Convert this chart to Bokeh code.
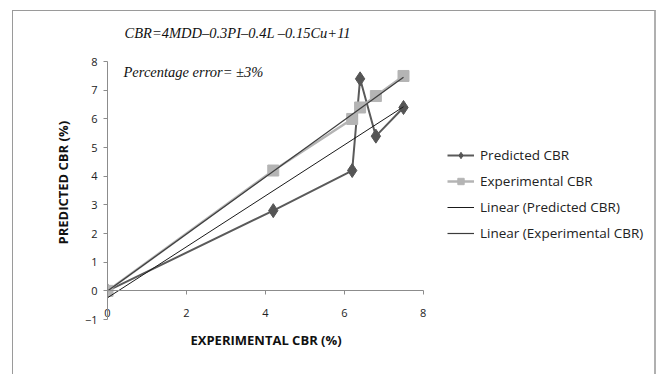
import numpy as np
from bokeh.plotting import figure
from bokeh.models import Legend, LegendItem, Label, FixedTicker, Range1d, LinearAxis, Title
from bokeh.embed import file_html
from bokeh.resources import INLINE

# data
exp_cbr = [0, 4.2, 6.2, 6.4, 6.8, 7.5]
predicted_cbr = [0, 2.8, 4.2, 7.4, 5.4, 6.4]
experimental_cbr = [0, 4.2, 6.0, 6.4, 6.8, 7.5]
x_ticks = [0, 2, 4, 6, 8]
y_ticks = [-1, 0, 1, 2, 3, 4, 5, 6, 7, 8]
title_text = "CBR=4MDD\u20130.3PI\u20130.4L \u20130.15Cu+11"
note_text = "Percentage error= \u00b13%"
x_label = "EXPERIMENTAL CBR (%)"
y_label = "PREDICTED CBR (%)"

# layout: axis area is 314 x 257 px; the frame extends right/up to hold legend and texts
W, H = 644, 364
left, right, top, bottom = 94, 4, 4, 56
frame_w = W - 3 - left - right
frame_h = H - 1 - top - bottom
x_end = x_ticks[0] + (x_ticks[-1] - x_ticks[0]) * frame_w / 314.0
y_end = y_ticks[0] + (y_ticks[-1] - y_ticks[0]) * frame_h / 257.0

p = figure(width=W, height=H, output_backend="svg", toolbar_location=None,
           x_range=Range1d(x_ticks[0], x_end), y_range=Range1d(y_ticks[0], y_end),
           min_border_left=left, min_border_right=right, min_border_top=top,
           min_border_bottom=bottom)
p.styles = {"margin-left": "12px", "margin-top": "10px",
            "border-left": "1px solid #9a9a9a", "border-top": "1px solid #9a9a9a",
            "border-right": "2px solid #b0b0b0"}
p.outline_line_color = None
p.xgrid.visible = False
p.ygrid.visible = False

tick_font = "Open Sans"
axis_gray = "#8c8c8c"

# bottom axis: tick labels only
xa = p.xaxis[0]
xa.ticker = FixedTicker(ticks=x_ticks)
xa.bounds = (x_ticks[0], x_ticks[-1])
xa.axis_line_color = None
xa.major_tick_line_color = None
xa.minor_tick_line_color = None
xa.major_label_standoff = -17

# x-axis line at y = 0 with ticks
x0 = LinearAxis(ticker=FixedTicker(ticks=x_ticks), fixed_location=0,
                bounds=(x_ticks[0], x_ticks[-1]))
x0.major_label_text_font_size = "0px"
x0.major_label_text_alpha = 0
x0.major_label_standoff = 0
x0.axis_line_color = axis_gray
x0.major_tick_line_color = axis_gray
x0.minor_tick_line_color = None
x0.major_tick_in = 0
x0.major_tick_out = 4
p.add_layout(x0, "below")

ya = p.yaxis[0]
ya.ticker = FixedTicker(ticks=y_ticks)
ya.bounds = (y_ticks[0], y_ticks[-1])
ya.axis_line_color = axis_gray
ya.major_tick_line_color = axis_gray
ya.minor_tick_line_color = None
ya.major_tick_in = 0
ya.major_tick_out = 4
ya.major_label_standoff = 6

for ax in (xa, ya):
    ax.major_label_text_font = tick_font
    ax.major_label_text_font_size = "11px"
    ax.major_label_text_color = "#222222"

label_style = dict(text_font=tick_font, text_font_size="13px", text_font_style="bold",
                   text_color="#111111")
p.add_layout(Title(text=x_label, align="left", offset=83, standoff=18, **label_style), "below")
p.add_layout(Title(text=y_label, align="left", offset=75, standoff=19, **label_style), "left")

# series (Excel order: predicted first, experimental on top)
l_pred = p.line(exp_cbr, predicted_cbr, line_color="#5a5a5a", line_width=2)
m_pred = p.scatter(exp_cbr, predicted_cbr, marker="diamond", size=14,
                   fill_color="#555555", line_color="#555555")
l_exp = p.line(exp_cbr, experimental_cbr, line_color="#b4b4b4", line_width=2.5)
m_exp = p.scatter(exp_cbr, experimental_cbr, marker="square", size=11,
                  fill_color="#b4b4b4", line_color="#b4b4b4")

# linear trendlines from least-squares fits
xs = np.array(exp_cbr)
xline = np.array([xs.min(), xs.max()])
k1, b1 = np.polyfit(xs, np.array(predicted_cbr), 1)
k2, b2 = np.polyfit(xs, np.array(experimental_cbr), 1)
t_pred = p.line(xline, k1 * xline + b1, line_color="#1a1a1a", line_width=1)
t_exp = p.line(xline, k2 * xline + b2, line_color="#3c3c3c", line_width=1.2)

legend = Legend(items=[
    LegendItem(label="Predicted CBR", renderers=[l_pred, m_pred]),
    LegendItem(label="Experimental CBR", renderers=[l_exp, m_exp]),
    LegendItem(label="Linear (Predicted CBR)", renderers=[t_pred]),
    LegendItem(label="Linear (Experimental CBR)", renderers=[t_exp]),
], location=(340, 77))
legend.border_line_color = None
legend.background_fill_alpha = 0
legend.padding = 0
legend.margin = 0
legend.glyph_width = 27
legend.glyph_height = 16
legend.label_height = 16
legend.spacing = 8
legend.label_standoff = 6
legend.label_text_font = tick_font
legend.label_text_font_size = "13.5px"
legend.label_text_color = "#222222"
p.add_layout(legend, "center")

for txt, lx, ly in ((title_text, 17, 287), (note_text, 16, 248)):
    p.add_layout(Label(x=lx, y=ly, x_units="screen", y_units="screen", text=txt,
                       text_font="Liberation Serif", text_font_style="italic",
                       text_font_size="14.5px", text_baseline="middle",
                       text_color="#111111"))

open("out.html", "w").write(file_html(p, INLINE))
